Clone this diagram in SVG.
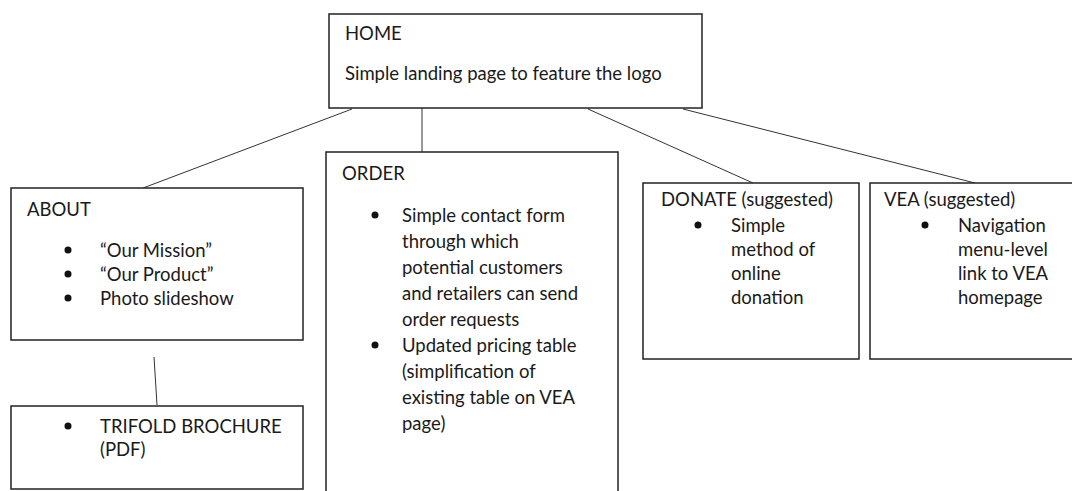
<svg xmlns="http://www.w3.org/2000/svg" width="1072" height="491" viewBox="0 0 1072 491">
<style>
.box{fill:#fff;stroke:#222;stroke-width:1.5}
.ln{stroke:#333;stroke-width:1;fill:none}
text{font-family:Lato,"Noto Sans",sans-serif;font-size:18.5px;fill:#1a1a1a}
.b{fill:#111}
</style>
<rect width="1072" height="491" fill="#fff"/>
<g id="connectors">
<line class="ln" x1="352" y1="109" x2="143" y2="188"/>
<line class="ln" x1="422" y1="108" x2="422" y2="152"/>
<line class="ln" x1="588" y1="109" x2="753" y2="183"/>
<line class="ln" x1="683" y1="109" x2="975" y2="183"/>
<line class="ln" x1="154" y1="357" x2="157" y2="405"/>
</g>
<g id="home">
<rect class="box" x="329" y="14" width="373" height="94"/>
<text x="345" y="40">HOME</text>
<text x="345" y="80">Simple landing page to feature the logo</text>
</g>
<g id="about">
<rect class="box" x="11" y="188" width="292" height="152"/>
<text x="27" y="216">ABOUT</text>
<circle class="b" cx="68" cy="250" r="3.5"/>
<circle class="b" cx="68" cy="274" r="3.5"/>
<circle class="b" cx="68" cy="298" r="3.5"/>
<text x="100" y="257">“Our Mission”</text>
<text x="100" y="281">“Our Product”</text>
<text x="100" y="305">Photo slideshow</text>
</g>
<g id="trifold">
<rect class="box" x="11" y="406" width="292" height="83"/>
<circle class="b" cx="68" cy="426" r="3.5"/>
<text x="100" y="433">TRIFOLD BROCHURE</text>
<text x="100" y="456">(PDF)</text>
</g>
<g id="order">
<rect class="box" x="326" y="152" width="292" height="350"/>
<text x="342" y="180">ORDER</text>
<circle class="b" cx="375" cy="215" r="3.5"/>
<circle class="b" cx="375" cy="345" r="3.5"/>
<text x="402" y="222">Simple contact form</text>
<text x="402" y="248">through which</text>
<text x="402" y="274">potential customers</text>
<text x="402" y="300">and retailers can send</text>
<text x="402" y="326">order requests</text>
<text x="402" y="352">Updated pricing table</text>
<text x="402" y="378">(simplification of</text>
<text x="402" y="404">existing table on VEA</text>
<text x="402" y="430">page)</text>
</g>
<g id="donate">
<rect class="box" x="643" y="183" width="216" height="176"/>
<text x="661" y="206">DONATE (suggested)</text>
<circle class="b" cx="698" cy="225" r="3.5"/>
<text x="731" y="232">Simple</text>
<text x="731" y="256">method of</text>
<text x="731" y="280">online</text>
<text x="731" y="304">donation</text>
</g>
<g id="vea">
<rect class="box" x="870" y="183" width="210" height="176"/>
<text x="884" y="206">VEA (suggested)</text>
<circle class="b" cx="925" cy="225" r="3.5"/>
<text x="958" y="232">Navigation</text>
<text x="958" y="256">menu-level</text>
<text x="958" y="280">link to VEA</text>
<text x="958" y="304">homepage</text>
</g>
</svg>
